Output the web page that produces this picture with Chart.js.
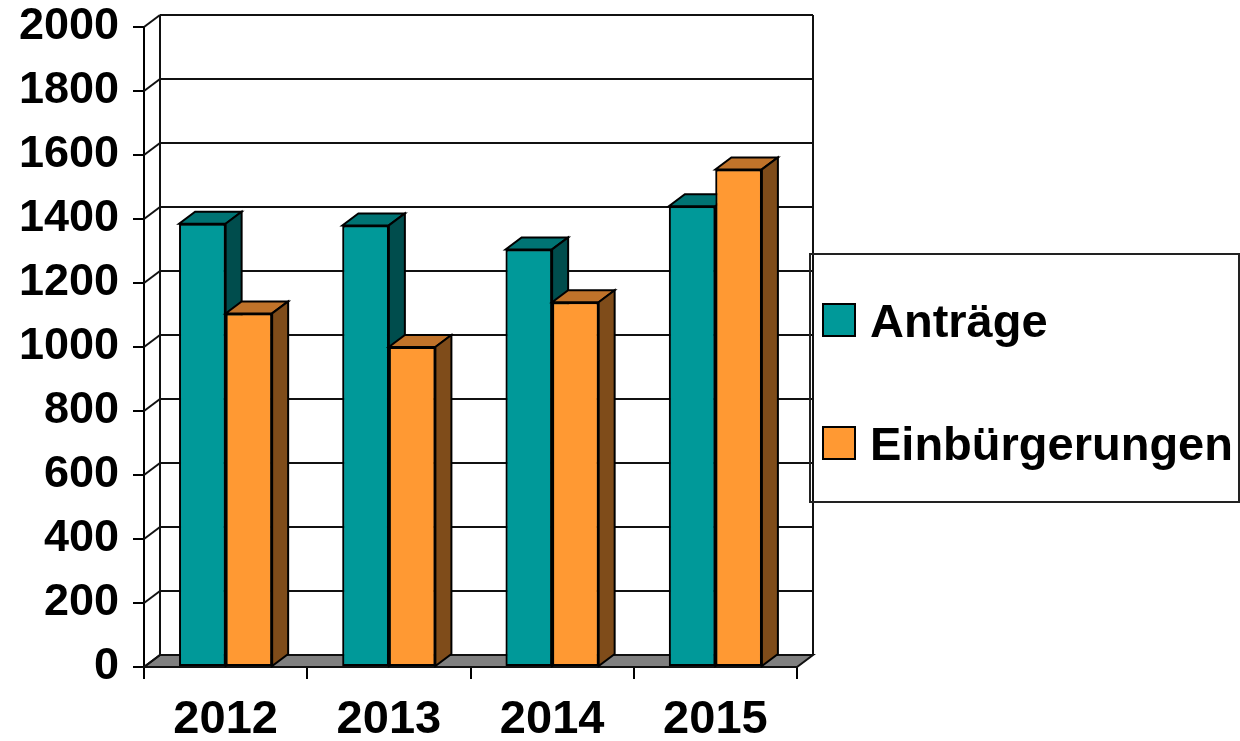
<!DOCTYPE html>
<html lang="de">
<head>
<meta charset="utf-8">
<title>Anträge und Einbürgerungen</title>
<script src="https://cdn.jsdelivr.net/npm/chart.js@4.4.1/dist/chart.umd.min.js"></script>
<style>
  body { margin: 0; background: #fff; }
  #wrap { width: 1240px; height: 741px; }
</style>
</head>
<body>
<div id="wrap"><canvas id="chart" width="1240" height="741"></canvas></div>
<script>
// data
var years = ['2012', '2013', '2014', '2015'];
var antraege = [1385, 1380, 1305, 1440];
var einbuergerungen = [1105, 1000, 1140, 1555];
var yTicks = [0, 200, 400, 600, 800, 1000, 1200, 1400, 1600, 1800, 2000];

var FONT = "'Liberation Sans', Arial, sans-serif";
var DX = 16, DY = 12;   // depth of the 3d look
var faces = [
  { front: '#009999', top: '#007373', side: '#004d4d' },
  { front: '#ff9933', top: '#c0732a', side: '#7f4c1a' }
];

function line(ctx, x1, y1, x2, y2) {
  ctx.beginPath();
  ctx.moveTo(x1, y1);
  ctx.lineTo(x2, y2);
  ctx.stroke();
}

function poly(ctx, pts, fill) {
  ctx.beginPath();
  ctx.moveTo(pts[0][0], pts[0][1]);
  for (var i = 1; i < pts.length; i++) ctx.lineTo(pts[i][0], pts[i][1]);
  ctx.closePath();
  ctx.fillStyle = fill;
  ctx.fill();
  ctx.stroke();
}

var depthPlugin = {
  id: 'depth',
  beforeDatasetsDraw: function(chart) {
    var ctx = chart.ctx, a = chart.chartArea, y = chart.scales.y;
    var yb = y.getPixelForValue(0), yt = y.getPixelForValue(yTicks[yTicks.length - 1]);
    ctx.save();
    ctx.lineWidth = 2;
    ctx.strokeStyle = '#111';
    // floor
    poly(ctx, [[a.left, yb], [a.right, yb], [a.right + DX, yb - DY], [a.left + DX, yb - DY]], '#808080');
    // walls
    line(ctx, a.left + DX, yt - DY, a.left + DX, yb - DY);
    line(ctx, a.right + DX, yt - DY, a.right + DX, yb - DY);
    yTicks.forEach(function(v) {
      var py = y.getPixelForValue(v);
      if (v > 0) line(ctx, a.left + DX, py - DY, a.right + DX, py - DY);
      line(ctx, a.left, py, a.left + DX, py - DY);
    });
    ctx.restore();
  },
  afterDatasetsDraw: function(chart) {
    var ctx = chart.ctx;
    ctx.save();
    chart.data.datasets.forEach(function(ds, i) {
      var meta = chart.getDatasetMeta(i);
      meta.data.forEach(function(bar) {
        var p = bar.getProps(['x', 'y', 'width', 'base'], true);
        var l = p.x - p.width / 2, r = p.x + p.width / 2;
        bar.draw(ctx);
        ctx.lineWidth = 2;
        ctx.strokeStyle = '#000';
        poly(ctx, [[l, p.y], [r, p.y], [r + DX, p.y - DY], [l + DX, p.y - DY]], faces[i].top);
        poly(ctx, [[r, p.y], [r + DX, p.y - DY], [r + DX, p.base - DY], [r, p.base]], faces[i].side);
      });
    });
    ctx.restore();
  },
  afterDraw: function(chart) {
    // legend box on the right
    var ctx = chart.ctx;
    ctx.save();
    ctx.lineWidth = 2;
    ctx.strokeStyle = '#222';
    ctx.strokeRect(810, 254, 429, 248);
    ctx.font = 'bold 47px ' + FONT;
    ctx.textBaseline = 'alphabetic';
    ctx.textAlign = 'left';
    var rows = [304, 427];
    chart.data.datasets.forEach(function(ds, i) {
      ctx.fillStyle = ds.backgroundColor;
      ctx.lineWidth = 2;
      ctx.strokeStyle = '#000';
      ctx.fillRect(823, rows[i], 32, 32);
      ctx.strokeRect(823, rows[i], 32, 32);
      ctx.fillStyle = '#000';
      ctx.fillText(ds.label, 870, rows[i] + 33);
    });
    ctx.restore();
  }
};

new Chart(document.getElementById('chart'), {
  type: 'bar',
  data: {
    labels: years,
    datasets: [{
      label: 'Anträge',
      data: antraege,
      backgroundColor: faces[0].front,
      borderColor: '#000',
      borderWidth: 2,
      borderSkipped: false
    }, {
      label: 'Einbürgerungen',
      data: einbuergerungen,
      backgroundColor: faces[1].front,
      borderColor: '#000',
      borderWidth: 2,
      borderSkipped: false
    }]
  },
  options: {
    responsive: false,
    animation: false,
    categoryPercentage: 0.57,
    barPercentage: 1,
    layout: { padding: { top: 27, right: 443, left: 0, bottom: 0 } },
    plugins: { legend: { display: false }, tooltip: { enabled: false } },
    scales: {
      x: {
        afterFit: function(s) { s.height = 74; },
        grid: { display: true, drawOnChartArea: false, drawTicks: true, tickLength: 12, color: '#000', lineWidth: 2, offset: true },
        border: { display: true, color: '#000', width: 2 },
        ticks: { color: '#000', padding: 13, font: { family: FONT, size: 47, weight: 'bold' } }
      },
      y: {
        min: 0,
        max: 2000,
        afterFit: function(s) { s.width = 144; s.paddingTop = 0; s.paddingBottom = 0; },
        afterBuildTicks: function(s) { s.ticks = yTicks.map(function(v) { return { value: v }; }); },
        grid: { display: true, drawOnChartArea: false, drawTicks: true, tickLength: 11, color: '#000', lineWidth: 2 },
        border: { display: true, color: '#000', width: 2 },
        ticks: {
          color: '#000',
          padding: 14,
          font: { family: FONT, size: 45, weight: 'bold', lineHeight: 1 },
          callback: function(v) { return String(v); }
        }
      }
    }
  },
  plugins: [depthPlugin]
});
</script>
</body>
</html>
